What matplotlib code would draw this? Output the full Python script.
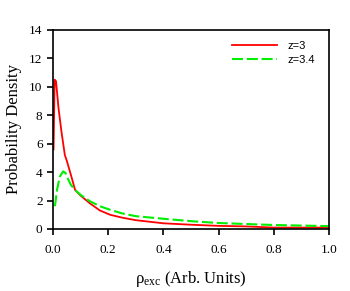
import matplotlib

matplotlib.use("Agg")
import matplotlib.pyplot as plt  # noqa: E402

# values
red_x = [0.002, 0.006, 0.011, 0.02, 0.031, 0.043, 0.05, 0.065, 0.08, 0.1,
         0.134, 0.17, 0.207, 0.25, 0.3, 0.4, 0.5, 0.6, 0.7, 0.8, 0.9, 1.0]
red_y = [5.6, 10.5, 10.4, 8.5, 6.8, 5.2, 4.8, 3.8, 2.75, 2.35,
         1.8, 1.3, 1.0, 0.8, 0.62, 0.4, 0.3, 0.22, 0.18, 0.1, 0.1, 0.1]

green_x = [0.007, 0.015, 0.025, 0.037, 0.045, 0.055, 0.065, 0.08, 0.1, 0.134,
           0.17, 0.207, 0.25, 0.3, 0.4, 0.5, 0.6, 0.7, 0.8, 0.9, 1.0]
green_y = [1.6, 2.8, 3.7, 4.05, 3.95, 3.5, 3.1, 2.75, 2.4, 1.95,
           1.6, 1.35, 1.1, 0.9, 0.72, 0.55, 0.42, 0.35, 0.28, 0.24, 0.2]

x_ticks = [0.0, 0.2, 0.4, 0.6, 0.8, 1.0]
y_ticks = [0, 2, 4, 6, 8, 10, 12, 14]

serif = "Liberation Serif"
plt.rcParams["mathtext.fontset"] = "custom"
plt.rcParams["mathtext.rm"] = serif
plt.rcParams["mathtext.it"] = serif + ":italic"

fig = plt.figure(figsize=(3.5, 2.91), dpi=100)
ax = fig.add_axes([0.1514, 0.2131, 0.7886, 0.6839])

ax.plot(red_x, red_y, color="#ff0000", lw=1.3, label="z=3")
ax.plot(green_x, green_y, color="#00ee00", lw=1.5, dashes=(5.3, 1.8), label="z=3.4")

ax.set_xlim(0, 1.0)
ax.set_ylim(0, 14)
ax.set_xticks(x_ticks)
ax.set_xticklabels([f"{v:.1f}" for v in x_ticks], family=serif, fontsize=9.5)
ax.set_yticks(y_ticks)
ax.set_yticklabels([str(v) for v in y_ticks], family=serif, fontsize=9.5)
ax.tick_params(direction="out", length=4, width=1.2, top=False, right=False)
ax.tick_params(axis="x", pad=7)
for s in ax.spines.values():
    s.set_linewidth(1.2)

ax.set_ylabel("Probability Density", family=serif, fontsize=12, labelpad=5)
ax.set_xlabel("\u03c1$_{\\rm exc}$ (Arb. Units)", family=serif, fontsize=12, labelpad=9)

ax.legend(loc="upper right", bbox_to_anchor=(0.949, 0.945), frameon=False,
          prop={"family": "Liberation Sans", "size": 8},
          borderpad=0, borderaxespad=0,
          handlelength=4.1, handletextpad=0.9, labelspacing=0.4)

fig.savefig("out.png", dpi=100)
